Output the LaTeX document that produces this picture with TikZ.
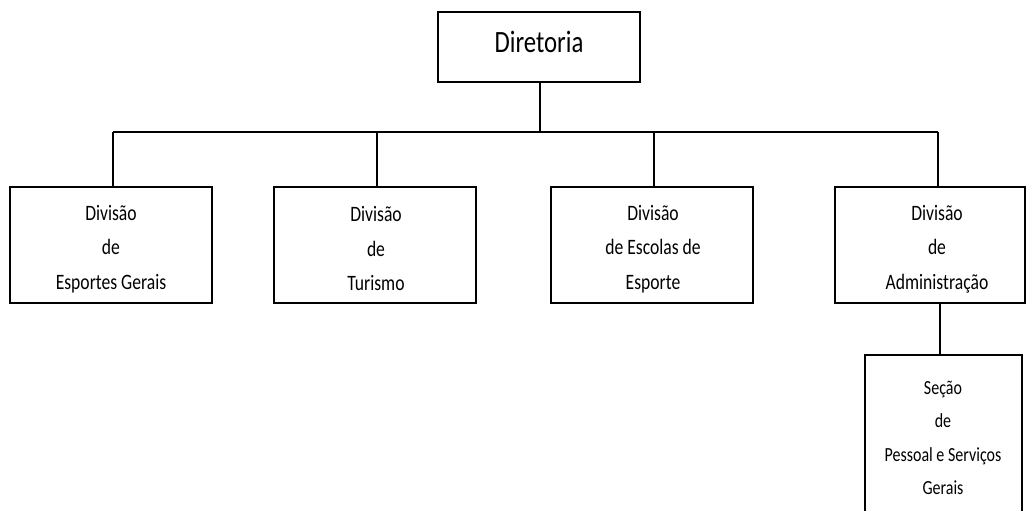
\documentclass[tikz,border=0pt]{standalone}
\usepackage{fontspec}
\setmainfont{Carlito}[FakeStretch=0.8]
\begin{document}
\begin{tikzpicture}[x=1pt,y=-1pt,
  box/.style={draw,line width=2pt,rectangle,inner sep=0pt},
  lbl/.style={align=center,font=\fontsize{22}{34.5}\selectfont,inner sep=0pt},
  slbl/.style={align=center,font=\fontsize{20}{33.5}\selectfont,inner sep=0pt},
  conn/.style={line width=1.5pt},
  thconn/.style={line width=2pt}]
\useasboundingbox (0,0) rectangle (1026,511);
\fill[white] (0,0) rectangle (1026,511);
\clip (0,0) rectangle (1026,511);
% top box
\node[box,minimum width=202pt,minimum height=70pt] (dir) at (539,47) {};
\node[inner sep=0pt,font=\fontsize{31}{36}\selectfont] (dirt) at (539,42) {Diretoria};
% division boxes
\node[box,minimum width=202pt,minimum height=116pt] (d1) at (111,245) {};
\node[box,minimum width=202pt,minimum height=116pt] (d2) at (375,245) {};
\node[box,minimum width=202pt,minimum height=116pt] (d3) at (652,245) {};
\node[box,minimum width=190pt,minimum height=116pt] (d4) at (930,245) {};
\node[lbl] (t1) at (111,249) {Divisão\\de\\Esportes Gerais};
\node[lbl] (t2) at (376,249) {Divisão\\de\\Turismo};
\node[lbl] (t3) at (653,249) {Divisão\\de Escolas de\\Esporte};
\node[lbl] (t4) at (937,249) {Divisão\\de\\Administração};
% section box
\node[box,minimum width=157pt,minimum height=166pt] (sec) at (943.5,438) {};
\node[slbl] (st) at (943,438) {Seção\\de\\Pessoal e Serviços\\Gerais};
% connectors
\coordinate (bus) at (540,132);
\coordinate (b1) at (113,132);
\coordinate (b2) at (377,132);
\coordinate (b3) at (654,132);
\coordinate (b4) at (938,132);
\coordinate (c5) at (940,330);
\draw[conn] (dir.south -| bus) -- (bus);
\draw[conn] (b1) -- (b4);
\draw[conn] (b1) -- (b1 |- d1.north);
\draw[conn] (b2) -- (b2 |- d2.north);
\draw[conn] (b3) -- (b3 |- d3.north);
\draw[conn] (b4) -- (b4 |- d4.north);
\draw[thconn] (c5 |- d4.south) -- (c5 |- sec.north);
\end{tikzpicture}
\end{document}
